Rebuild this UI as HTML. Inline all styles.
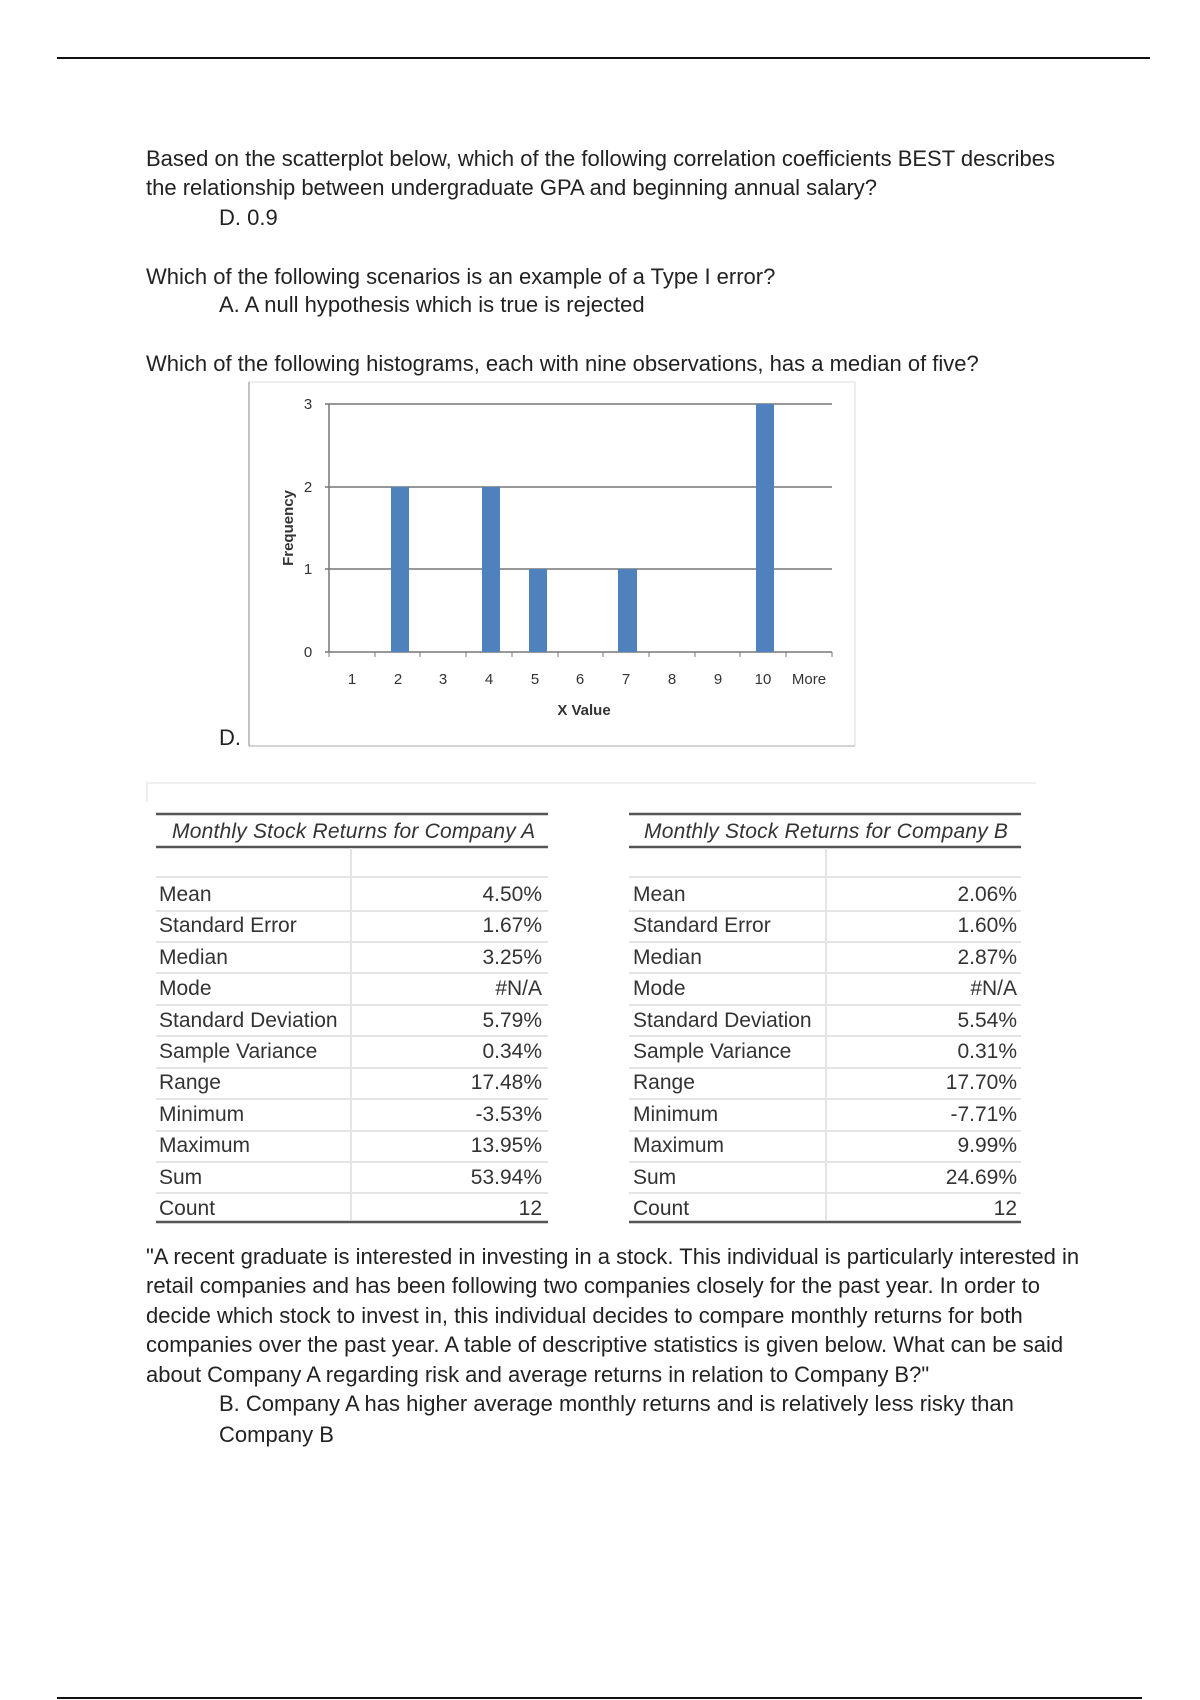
<!DOCTYPE html>
<html><head><meta charset="utf-8"><style>
body{margin:0;width:1200px;height:1700px;background:#fff;position:relative;overflow:hidden;font-family:"Liberation Sans",Arial,sans-serif;color:#222}
.t{position:absolute;font-size:22px;white-space:nowrap;line-height:1}
.tb{position:absolute;font-size:21px;color:#333;white-space:nowrap;line-height:1}
.hl{position:absolute;height:0}
</style></head><body>
<div class="hl" style="left:57px;top:57px;width:1093px;border-top:2px solid #111"></div>
<div class="hl" style="left:57px;top:1697px;width:1085px;border-top:2px solid #111"></div>

<div class="t" style="left:146px;top:148px">Based on the scatterplot below, which of the following correlation coefficients BEST describes</div>
<div class="t" style="left:146px;top:177px">the relationship between undergraduate GPA and beginning annual salary?</div>
<div class="t" style="left:219px;top:207px">D. 0.9</div>
<div class="t" style="left:146px;top:266px">Which of the following scenarios is an example of a Type I error?</div>
<div class="t" style="left:219px;top:294px">A. A null hypothesis which is true is rejected</div>
<div class="t" style="left:146px;top:353px">Which of the following histograms, each with nine observations, has a median of five?</div>
<div class="t" style="left:219px;top:727px">D.</div>

<svg style="position:absolute;left:0;top:0" width="1200" height="1700">
<rect x="249" y="382" width="606" height="364" fill="none" stroke="#ddd" stroke-width="1"/>
<line x1="249" y1="382" x2="249" y2="746" stroke="#888"/>
<line x1="249" y1="746" x2="855" y2="746" stroke="#aaa"/>
<g stroke="#777" stroke-width="1.5">
<line x1="325" y1="404" x2="832" y2="404"/>
<line x1="325" y1="487" x2="832" y2="487"/>
<line x1="325" y1="569" x2="832" y2="569"/>
<line x1="325" y1="652" x2="832" y2="652"/>
<line x1="329" y1="404" x2="329" y2="652"/>
</g>
<g stroke="#777" stroke-width="1">
<line x1="329" y1="652" x2="329" y2="657"/><line x1="375" y1="652" x2="375" y2="657"/><line x1="420" y1="652" x2="420" y2="657"/><line x1="466" y1="652" x2="466" y2="657"/><line x1="512" y1="652" x2="512" y2="657"/><line x1="558" y1="652" x2="558" y2="657"/><line x1="603" y1="652" x2="603" y2="657"/><line x1="649" y1="652" x2="649" y2="657"/><line x1="695" y1="652" x2="695" y2="657"/><line x1="740" y1="652" x2="740" y2="657"/><line x1="786" y1="652" x2="786" y2="657"/><line x1="832" y1="652" x2="832" y2="657"/>
</g>
<g fill="#4f81bd">
<rect x="391" y="487" width="18" height="165"/>
<rect x="482" y="487" width="18" height="165"/>
<rect x="529" y="569" width="18" height="83"/>
<rect x="618" y="569" width="19" height="83"/>
<rect x="756" y="404" width="18" height="248"/>
</g>
<g font-family="Liberation Sans, sans-serif" font-size="15" fill="#333" text-anchor="middle">
<text x="308" y="409">3</text><text x="308" y="492">2</text><text x="308" y="574">1</text><text x="308" y="657">0</text>
<text x="352" y="684">1</text><text x="398" y="684">2</text><text x="443" y="684">3</text><text x="489" y="684">4</text><text x="535" y="684">5</text><text x="580" y="684">6</text><text x="626" y="684">7</text><text x="672" y="684">8</text><text x="718" y="684">9</text><text x="763" y="684">10</text><text x="809" y="684">More</text>
<text x="584" y="715" font-weight="bold">X Value</text>
<text x="0" y="0" font-weight="bold" transform="translate(293,528) rotate(-90)">Frequency</text>
</g>

<rect x="146" y="782" width="890" height="2" fill="#f0f0f0"/>
<rect x="146" y="782" width="2" height="20" fill="#eee"/>
<g stroke="#555" stroke-width="2.5">
<line x1="156" y1="814" x2="548" y2="814"/><line x1="156" y1="847" x2="548" y2="847"/><line x1="156" y1="1222" x2="548" y2="1222"/>
<line x1="629" y1="814" x2="1021" y2="814"/><line x1="629" y1="847" x2="1021" y2="847"/><line x1="629" y1="1222" x2="1021" y2="1222"/>
</g>
<g stroke="#e4e4e4" stroke-width="2">
<line x1="351" y1="848" x2="351" y2="1220"/><line x1="826" y1="848" x2="826" y2="1220"/>
<line x1="156" y1="877" x2="548" y2="877"/><line x1="629" y1="877" x2="1021" y2="877"/>
<line x1="156" y1="911" x2="548" y2="911"/><line x1="629" y1="911" x2="1021" y2="911"/>
<line x1="156" y1="942" x2="548" y2="942"/><line x1="629" y1="942" x2="1021" y2="942"/>
<line x1="156" y1="973" x2="548" y2="973"/><line x1="629" y1="973" x2="1021" y2="973"/>
<line x1="156" y1="1005" x2="548" y2="1005"/><line x1="629" y1="1005" x2="1021" y2="1005"/>
<line x1="156" y1="1036" x2="548" y2="1036"/><line x1="629" y1="1036" x2="1021" y2="1036"/>
<line x1="156" y1="1068" x2="548" y2="1068"/><line x1="629" y1="1068" x2="1021" y2="1068"/>
<line x1="156" y1="1099" x2="548" y2="1099"/><line x1="629" y1="1099" x2="1021" y2="1099"/>
<line x1="156" y1="1131" x2="548" y2="1131"/><line x1="629" y1="1131" x2="1021" y2="1131"/>
<line x1="156" y1="1162" x2="548" y2="1162"/><line x1="629" y1="1162" x2="1021" y2="1162"/>
<line x1="156" y1="1193" x2="548" y2="1193"/><line x1="629" y1="1193" x2="1021" y2="1193"/>
</g>
</svg>

<div class="tb" style="left:172px;top:821px;font-style:italic;letter-spacing:0.2px">Monthly Stock Returns for Company A</div>
<div class="tb" style="left:644px;top:821px;font-style:italic;letter-spacing:0.2px">Monthly Stock Returns for Company B</div>

<div style="position:absolute;left:159px;top:884px;width:383px" class="tb">
<div style="position:relative;height:31.4px">Mean<span style="position:absolute;right:0">4.50%</span></div>
<div style="position:relative;height:31.4px">Standard Error<span style="position:absolute;right:0">1.67%</span></div>
<div style="position:relative;height:31.4px">Median<span style="position:absolute;right:0">3.25%</span></div>
<div style="position:relative;height:31.4px">Mode<span style="position:absolute;right:0">#N/A</span></div>
<div style="position:relative;height:31.4px">Standard Deviation<span style="position:absolute;right:0">5.79%</span></div>
<div style="position:relative;height:31.4px">Sample Variance<span style="position:absolute;right:0">0.34%</span></div>
<div style="position:relative;height:31.4px">Range<span style="position:absolute;right:0">17.48%</span></div>
<div style="position:relative;height:31.4px">Minimum<span style="position:absolute;right:0">-3.53%</span></div>
<div style="position:relative;height:31.4px">Maximum<span style="position:absolute;right:0">13.95%</span></div>
<div style="position:relative;height:31.4px">Sum<span style="position:absolute;right:0">53.94%</span></div>
<div style="position:relative;height:31.4px">Count<span style="position:absolute;right:0">12</span></div>
</div>
<div style="position:absolute;left:633px;top:884px;width:384px" class="tb">
<div style="position:relative;height:31.4px">Mean<span style="position:absolute;right:0">2.06%</span></div>
<div style="position:relative;height:31.4px">Standard Error<span style="position:absolute;right:0">1.60%</span></div>
<div style="position:relative;height:31.4px">Median<span style="position:absolute;right:0">2.87%</span></div>
<div style="position:relative;height:31.4px">Mode<span style="position:absolute;right:0">#N/A</span></div>
<div style="position:relative;height:31.4px">Standard Deviation<span style="position:absolute;right:0">5.54%</span></div>
<div style="position:relative;height:31.4px">Sample Variance<span style="position:absolute;right:0">0.31%</span></div>
<div style="position:relative;height:31.4px">Range<span style="position:absolute;right:0">17.70%</span></div>
<div style="position:relative;height:31.4px">Minimum<span style="position:absolute;right:0">-7.71%</span></div>
<div style="position:relative;height:31.4px">Maximum<span style="position:absolute;right:0">9.99%</span></div>
<div style="position:relative;height:31.4px">Sum<span style="position:absolute;right:0">24.69%</span></div>
<div style="position:relative;height:31.4px">Count<span style="position:absolute;right:0">12</span></div>
</div>

<div class="t" style="left:146px;top:1246px">"A recent graduate is interested in investing in a stock. This individual is particularly interested in</div>
<div class="t" style="left:146px;top:1275px">retail companies and has been following two companies closely for the past year. In order to</div>
<div class="t" style="left:146px;top:1305px">decide which stock to invest in, this individual decides to compare monthly returns for both</div>
<div class="t" style="left:146px;top:1334px">companies over the past year. A table of descriptive statistics is given below. What can be said</div>
<div class="t" style="left:146px;top:1364px">about Company A regarding risk and average returns in relation to Company B?"</div>
<div class="t" style="left:219px;top:1393px">B. Company A has higher average monthly returns and is relatively less risky than</div>
<div class="t" style="left:219px;top:1424px">Company B</div>
</body></html>
